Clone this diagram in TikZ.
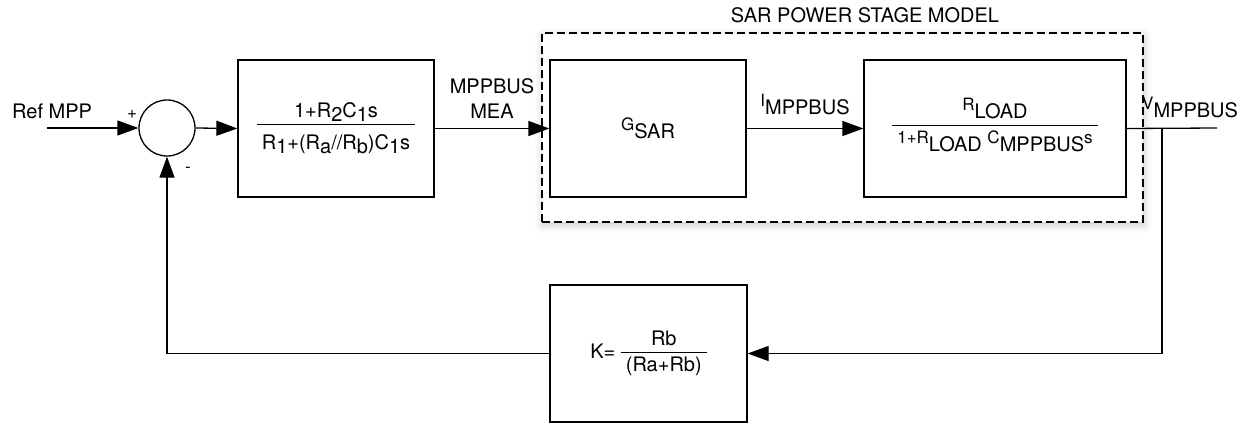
\documentclass[tikz,border=0pt]{standalone}
\usepackage{fontspec}
\setmainfont{TeX Gyre Heros}
\usepackage{tikz}
\usetikzlibrary{arrows.meta, positioning, shadows.blur}

\newcommand{\lowr}[1]{\raisebox{-4pt}{#1}}
\newcommand{\highr}[1]{\raisebox{8pt}{\fontsize{17}{17}\selectfont #1}}
\newcommand{\frc}[3][25pt]{\begin{tabular}{@{\hspace{5pt}}c@{\hspace{5pt}}}#2\\[-1pt]\hline\rule{0pt}{#1}#3\end{tabular}}
\setlength{\arrayrulewidth}{1.2pt}

\tikzset{
	blk/.style={draw, line width=1.3pt, inner sep=0pt, minimum height=137pt},
	arr/.style={line width=1.3pt, -{Triangle[length=21pt, width=15pt]}},
	wire/.style={line width=1.3pt},
}

\begin{document}
\begin{tikzpicture}[x=1pt, y=-1pt, font=\fontsize{20}{25}\selectfont]
		\useasboundingbox (0, 0) rectangle (1259, 426);
		% Paths, nodes and wires:
		\node[draw, dashed, dash pattern=on 8pt off 4pt, line width=1.2pt, fill=white, minimum width=601pt, minimum height=189pt,
			blur shadow={shadow xshift=1pt, shadow yshift=-3pt, shadow blur radius=8pt, shadow opacity=22}](N6) at (842.5, 127.5){};
		\node(N9) at (865, 15){SAR POWER STAGE MODEL};
		\node[anchor=base west, inner sep=0pt](N10) at (12, 118){Ref MPP};
		\coordinate(N0) at (47, 128);
		\node[circle, draw, line width=1.3pt, minimum size=56pt, inner sep=0pt](N1) at (167, 128){};
		\node[font=\fontsize{17}{17}\selectfont](N11) at (132, 114){+};
		\node[font=\fontsize{17}{17}\selectfont](N12) at (188, 170){-};
		\node[blk, minimum width=196pt](N2) at (336, 128.5){\frc{1+R\lowr{2}C\lowr{1}s}{R\lowr{1}+(R\lowr{a}//R\lowr{b})C\lowr{1}s}};
		\node[blk, minimum width=196pt](N3) at (648, 128.5){\highr{G}SAR};
		\node[blk, minimum width=262pt](N4) at (995, 128.5){\frc{\highr{R}LOAD}{\highr{1+R}LOAD \highr{C}MPPBUS\highr{s}}};
		\node[blk, minimum width=197pt](N5) at (648.5, 353.5){K= \frc[19pt]{Rb}{(Ra+Rb)}};
		\coordinate(N7) at (1162, 128);
		\coordinate(N8) at (1217, 128);
		\node[anchor=base west, inner sep=0pt](N13) at (1142, 117){\highr{V}MPPBUS};
		\draw[arr] (N0) -- (N1.west);
		\draw[arr] (N1.east) -- (N2.west);
		\draw[arr] (N2.east) -- node[above=6pt, align=center]{MPPBUS\\MEA} (N3.west);
		\draw[arr] (N3.east) -- node[above=9.5pt]{\highr{I}MPPBUS} (N4.west);
		\draw[wire] (N4.east) -- (N8);
		\draw[arr] (N7) |- (N5.east);
		\draw[arr] (N5.west) -| (N1.south);
	\end{tikzpicture}
\end{document}
